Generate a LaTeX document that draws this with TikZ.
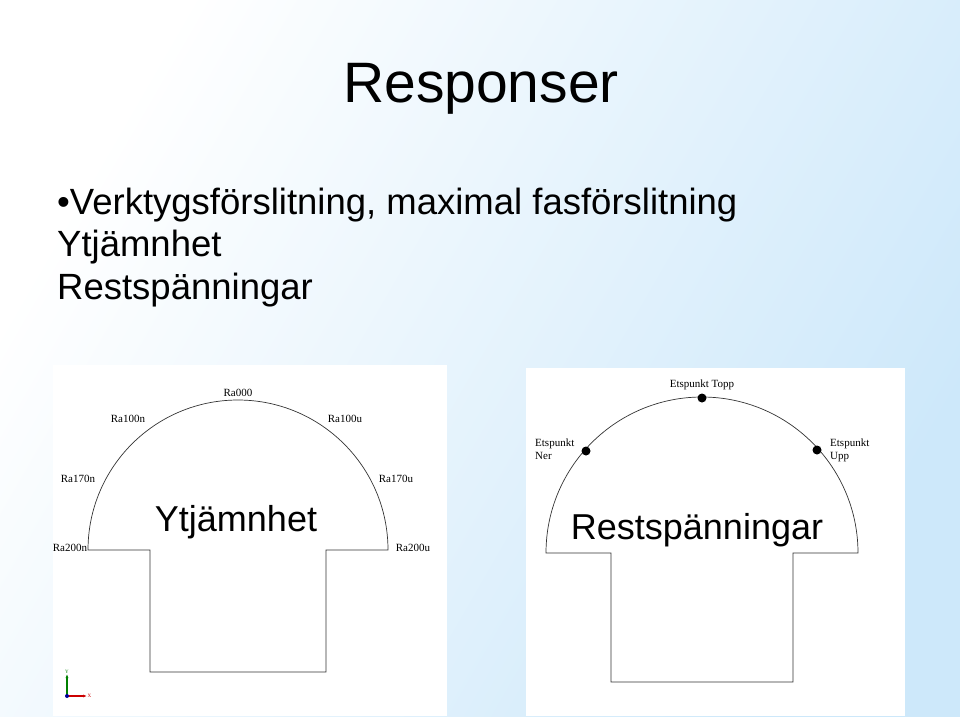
\documentclass[tikz,border=0pt]{standalone}
\usepackage{fontspec}
\setmainfont{Liberation Serif}
\setsansfont{Liberation Sans}
\usetikzlibrary{arrows.meta, positioning}
\definecolor{slideblue}{RGB}{205,232,250}

\tikzset{
  slidetext/.style={font=\sffamily\fontsize{36.5}{42}\selectfont, anchor=base west, inner sep=0pt},
  ralabel/.style={font=\fontsize{11}{13}\selectfont, inner sep=1pt},
  bigword/.style={font=\sffamily\fontsize{36}{42}\selectfont, inner sep=0pt},
  profile/.style={draw=black!80, line width=0.7pt},
  etsdot/.style={circle, fill=black, inner sep=0pt, minimum size=9pt}
}

\begin{document}
\begin{tikzpicture}[x=1pt, y=-1pt]
\useasboundingbox (0,0) rectangle (960,716);
\shade[left color=white, right color=slideblue, shading angle=60] (0,0) rectangle (960,716);

% title and bullet list
\node (title) [font=\sffamily\fontsize{57}{64}\selectfont, inner sep=0pt, anchor=base] at (481,102) {Responser};
\node (wear) [slidetext] at (57,214) {\textbullet Verktygsförslitning, maximal fasförslitning};
\node (rough) [slidetext] at (57,256) {Ytjämnhet};
\node (resid) [slidetext] at (57,299) {Restspänningar};

% left panel
\fill[white] (53,365) rectangle (447,716);
\draw[profile] (88,550) arc[start angle=180, end angle=360, radius=150]
  -- (326,550) -- (326,672) -- (150,672) -- (150,550) -- cycle;
\node (ra000) [ralabel] at (238,393) {Ra000};
\node (ra100n) [ralabel] at (128,419) {Ra100n};
\node (ra100u) [ralabel] at (345,419) {Ra100u};
\node (ra170n) [ralabel] at (78,479) {Ra170n};
\node (ra170u) [ralabel] at (396,479) {Ra170u};
\node (ra200n) [ralabel] at (70,548) {Ra200n};
\node (ra200u) [ralabel] at (413,548) {Ra200u};
\node (ytj) [bigword] at (236,522) {Ytjämnhet};
% axis triad
\coordinate (origin) at (67,696);
\draw[green!50!black, line width=1.2pt, -{Latex[length=4pt]}] (origin) -- ++(0,-22) node[above, font=\tiny, inner sep=0pt] {Y};
\draw[red!80!black, line width=1.2pt, -{Latex[length=4pt]}] (origin) -- ++(20,0) node[right, font=\tiny, inner sep=0pt] {X};
\fill[blue!60!black] (origin) circle (2pt);

% right panel
\fill[white] (526,368) rectangle (905,716);
\draw[profile] (546,553) arc[start angle=180, end angle=360, radius=156]
  -- (793,553) -- (793,682) -- (611,682) -- (611,553) -- cycle;
\node (dtop) [etsdot] at (702,398) {};
\node (dner) [etsdot] at (586,451) {};
\node (dupp) [etsdot] at (817,450) {};
\node (ltop) [ralabel, above=2pt of dtop] {Etspunkt Topp};
\node (lner) [ralabel, align=left, anchor=north west] at (534,438) {Etspunkt\\Ner};
\node (lupp) [ralabel, align=left, anchor=north west] at (829,438) {Etspunkt\\Upp};
\node (rest) [bigword] at (697,530) {Restspänningar};
\end{tikzpicture}
\end{document}
